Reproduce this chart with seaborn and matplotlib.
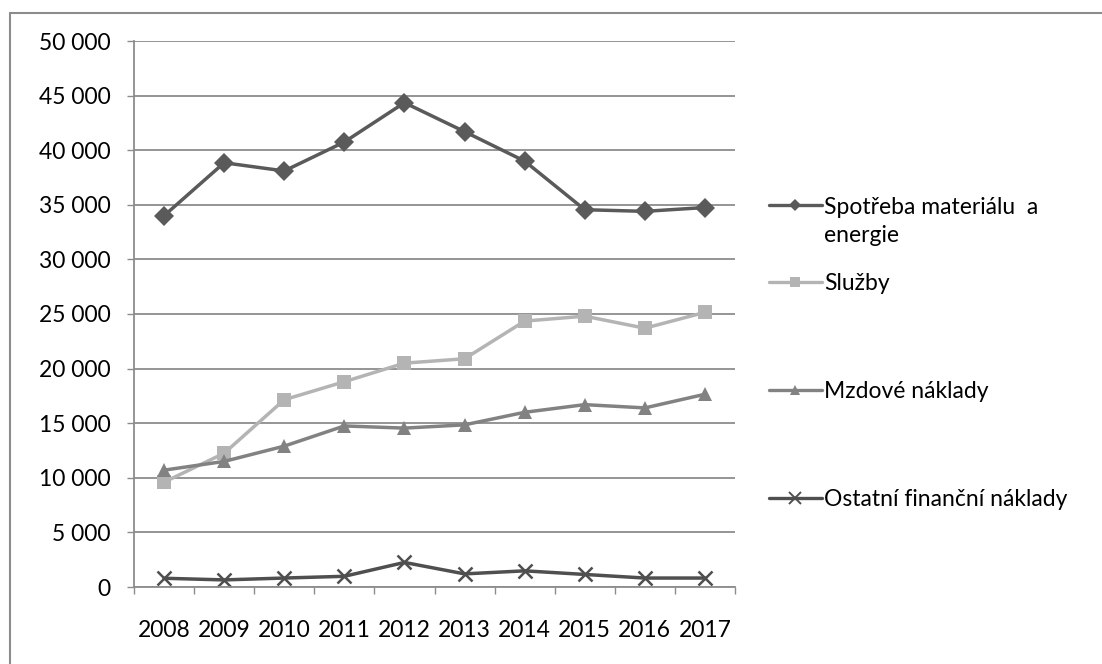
import numpy as np
import pandas as pd
import matplotlib
matplotlib.use("Agg")
import matplotlib.pyplot as plt
from matplotlib.lines import Line2D
import seaborn as sns

years = ["2008", "2009", "2010", "2011", "2012", "2013", "2014", "2015", "2016", "2017"]
series_names = [
    "Spotřeba materiálu  a\nenergie",
    "Služby",
    "Mzdové náklady",
    "Ostatní finanční náklady",
]
spotreba = [34000, 38850, 38100, 40750, 44350, 41700, 39000, 34550, 34400, 34750]
sluzby = [9600, 12250, 17150, 18800, 20500, 20900, 24350, 24800, 23700, 25150]
mzdove = [10700, 11500, 12900, 14750, 14550, 14850, 16000, 16700, 16400, 17650]
ostatni = [800, 650, 820, 980, 2250, 1200, 1480, 1150, 820, 820]

colors = ["#5a5a5a", "#b4b4b4", "#828282", "#4f4f4f"]
markers = ["D", "s", "^", "x"]

FONT = "Lato"
FS = 16.5

sns.set_theme(style="white")
plt.rcParams["font.family"] = [FONT, "DejaVu Sans"]

fig = plt.figure(figsize=(11.02, 6.64), dpi=100)
ax = fig.add_axes([134 / 1102, 1 - 587 / 664, 601 / 1102, 546 / 664])

positions = list(range(len(years)))
handles = []
for name, vals, col, mk in zip(series_names, [spotreba, sluzby, mzdove, ostatni], colors, markers):
    df = pd.DataFrame({"pos": positions, "value": vals})
    if mk == "x":
        kw = dict(markersize=10.5, markeredgewidth=1.8, markeredgecolor=col)
    else:
        kw = dict(markersize=10, markeredgewidth=0)
    sns.lineplot(data=df, x="pos", y="value", color=col, marker=mk,
                 linewidth=2.5, ax=ax, **kw)
    handles.append(Line2D([], [], color=col, marker=mk, linewidth=2.4,
                          markersize=(8 if mk == "x" else 6.5),
                          markeredgewidth=(1.4 if mk == "x" else 0),
                          markeredgecolor=col))

ax.set_xlim(-0.5, len(years) - 0.5)
ax.set_ylim(0, 50000)
yt = np.arange(0, 50001, 5000)
ax.set_yticks(yt)
ax.set_yticklabels([f"{v:,}".replace(",", " ") for v in yt], fontsize=FS, color="#000000")
ax.yaxis.grid(True, color="#8c8c8c", linewidth=1.3)
ax.set_axisbelow(True)

ax.set_xticks(np.arange(-0.5, len(years), 1))
ax.set_xticklabels([])
ax.set_xticks(positions, minor=True)
ax.set_xticklabels(years, minor=True, fontsize=FS, color="#000000")
ax.tick_params(axis="x", which="major", direction="out", length=5, width=1, color="#8c8c8c", bottom=True)
ax.tick_params(axis="x", which="minor", length=0, pad=24)
ax.tick_params(axis="y", direction="out", length=5, width=1, color="#8c8c8c", pad=12, left=True)
ax.set_xlabel("")
ax.set_ylabel("")

for side in ["top", "right"]:
    ax.spines[side].set_visible(False)
for side in ["left", "bottom"]:
    ax.spines[side].set_color("#8c8c8c")
    ax.spines[side].set_linewidth(1.3)

# legend entries placed one by one on the right
entry_y = [207, 284, 392, 500]
wrapped = []
for i, (h, lab) in enumerate(zip(handles, series_names)):
    lines = lab.split("\n")
    leg = fig.legend(
        [h], [lines[0]], loc="center left",
        bbox_to_anchor=(769 / 1102, 1 - entry_y[i] / 664),
        frameon=False, borderpad=0, borderaxespad=0,
        handlelength=2.3, handletextpad=0.12, labelcolor="#000000",
        prop={"family": [FONT, "DejaVu Sans"], "size": FS},
    )
    if len(lines) > 1:
        wrapped.append((leg.get_texts()[0], lines[1]))

# continuation lines of wrapped legend labels sit under their first line
fig.canvas.draw()
renderer = fig.canvas.get_renderer()
for txt, rest in wrapped:
    bb = txt.get_window_extent(renderer).transformed(fig.transFigure.inverted())
    fig.text(bb.x0, bb.y0 - 8 / 664, rest, va="top", ha="left",
             fontsize=FS, color="#000000", family=[FONT, "DejaVu Sans"])

# outer chart frame (top and left edges)
fig.add_artist(Line2D([10 / 1102, 1.0], [1 - 13 / 664, 1 - 13 / 664],
                      transform=fig.transFigure, color="#8c8c8c", linewidth=1.5))
fig.add_artist(Line2D([10 / 1102, 10 / 1102], [0.0, 1 - 13 / 664],
                      transform=fig.transFigure, color="#8c8c8c", linewidth=1.5))

fig.savefig("out.png", dpi=100, facecolor="white")
